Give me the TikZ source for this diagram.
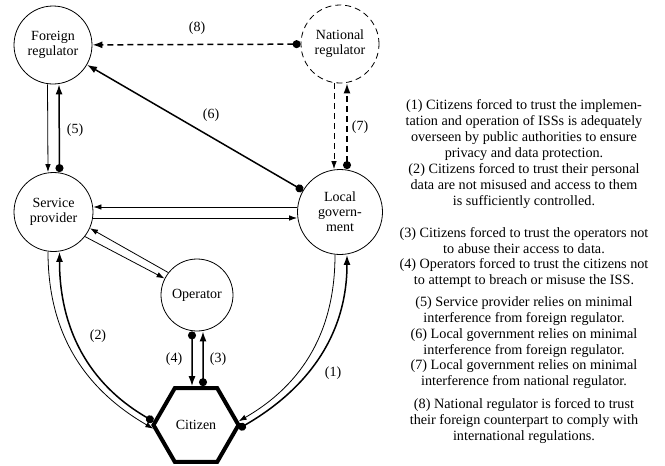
\documentclass[tikz,border=0pt]{standalone}
\usepackage{fontspec}
\setmainfont{Liberation Serif}
\usetikzlibrary{arrows.meta,shapes.geometric,calc}
\begin{document}
\begin{tikzpicture}[x=1pt,y=-1pt,
  font=\fontsize{14}{15}\selectfont,
  actor/.style={circle,draw,line width=0.8pt,inner sep=0pt,align=center},
  flow/.style={line width=0.8pt,-{Latex[length=8pt,width=5.5pt]}},
  trust/.style={line width=1.5pt,{Circle[length=8pt]}-{Latex[length=10pt,width=7pt]}},
  dashpat/.style={dash pattern=on 6pt off 4pt},
  lbl/.style={inner sep=0pt},
  legend/.style={align=center,font=\fontsize{14.2}{16}\selectfont,inner sep=0pt}]
\useasboundingbox (0,0) rectangle (665,466);

% actors
\node[actor,minimum size=78pt] (fr) at (53,45) {Foreign\\regulator};
\node[actor,minimum size=78pt,dashpat] (nr) at (340,44) {National\\regulator};
\node[actor,minimum size=79pt] (sp) at (53.5,212) {Service\\provider};
\node[actor,minimum size=85pt] (lg) at (340,212) {Local\\govern-\\ment};
\node[actor,minimum size=72pt] (op) at (197,295) {Operator};
\node[regular polygon,regular polygon sides=6,draw,line width=4pt,
      minimum size=85pt,inner sep=0pt] (cit) at (196,425) {Citizen};

% (8) national -> foreign
\draw[trust,dashpat] (nr) -- (fr);
% (7) local government <-> national regulator
\draw[flow,dashpat] ([xshift=-6pt]nr.south) -- ([xshift=-6pt]lg.north);
\draw[trust,dashpat] ([xshift=7pt]lg.north) -- ([xshift=7pt]nr.south);
% (6) local government -> foreign regulator
\draw[trust] (lg) -- (fr);
% (5) service provider <-> foreign regulator
\draw[flow] ([xshift=-5.5pt]fr.south) -- ([xshift=-5.5pt]sp.north);
\draw[trust] ([xshift=6pt]sp.north) -- ([xshift=6pt]fr.south);
% service provider <-> local government
\draw[flow] ([yshift=5pt]lg.west) -- ([yshift=5pt]sp.east);
\draw[flow] ([yshift=-6pt]sp.east) -- ([yshift=-6pt]lg.west);
% service provider <-> operator
\draw[flow] (op.142) -- (sp.-24);
\draw[flow] (sp.-38) -- (op.153);
% (4) and (3) operator <-> citizen
\draw[trust] ([xshift=-5pt]op.south) -- ([xshift=-4pt]cit.north);
\draw[trust] ([xshift=7pt]cit.north) -- ([xshift=6pt]op.south);
% (2) citizen <-> service provider
\draw[flow] ([xshift=-5.5pt]sp.south) to[out=-90,in=150] (cit.185);
\draw[trust] (cit.175) to[out=150,in=-90] ([xshift=6pt]sp.south);
% (1) citizen <-> local government
\draw[flow] ([xshift=-5pt]lg.south) to[out=-90,in=30] (cit.5);
\draw[trust] (cit.-5) to[out=30,in=-90] ([xshift=7pt]lg.south);

% edge labels
\node[lbl] (l8) at (197,28) {(8)};
\node[lbl] (l6) at (211,115) {(6)};
\node[lbl] (l5) at (75,130) {(5)};
\node[lbl] (l7) at (360,127) {(7)};
\node[lbl] (l2) at (98,336) {(2)};
\node[lbl] (l4) at (174,359) {(4)};
\node[lbl] (l3) at (218,359) {(3)};
\node[lbl] (l1) at (333,373) {(1)};

% legend
\node[legend] (leg1) at (524,130) {(1) Citizens forced to trust the implemen-\\tation and operation of ISSs is adequately\\overseen by public authorities to ensure\\privacy and data protection.};
\node[legend] (leg2) at (524,186) {(2) Citizens forced to trust their personal\\data are not misused and access to them\\is sufficiently controlled.};
\node[legend] (leg3) at (524,241) {(3) Citizens forced to trust the operators not\\to abuse their access to data.};
\node[legend] (leg4) at (524,273.5) {(4) Operators forced to trust the citizens not\\to attempt to breach or misuse the ISS.};
\node[legend] (leg5) at (524,311) {(5) Service provider relies on minimal\\interference from foreign regulator.};
\node[legend] (leg6) at (524,343) {(6) Local government relies on minimal\\interference from foreign regulator.};
\node[legend] (leg7) at (524,374.5) {(7) Local government relies on minimal\\interference from national regulator.};
\node[legend] (leg8) at (524,421) {(8) National regulator is forced to trust\\their foreign counterpart to comply with\\international regulations.};
\end{tikzpicture}
\end{document}
